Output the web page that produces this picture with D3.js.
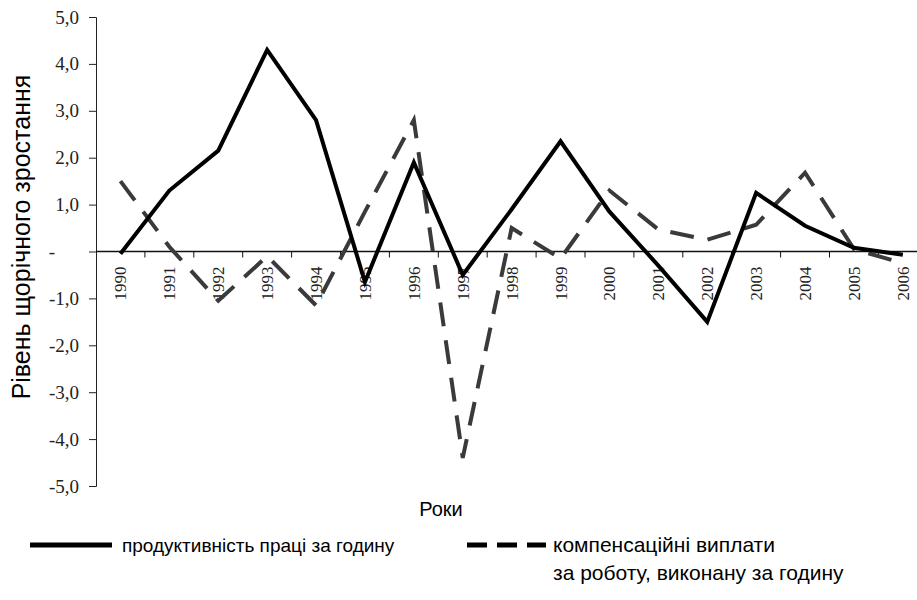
<!DOCTYPE html>
<html>
<head>
<meta charset="utf-8">
<script src="https://cdn.jsdelivr.net/npm/d3@7"></script>
<style>
  body { margin: 0; background: #fff; }
  svg { display: block; }
</style>
</head>
<body>
<div id="chart"></div>
<script>
// data
const years = ["1990","1991","1992","1993","1994","1995","1996","1997","1998","1999","2000","2001","2002","2003","2004","2005","2006"];
const productivity = [-0.05, 1.3, 2.15, 4.3, 2.8, -0.65, 1.9, -0.5, 0.9, 2.35, 0.85, -0.3, -1.5, 1.25, 0.55, 0.08, -0.07];
const compensation = [1.5, 0.1, -1.05, -0.1, -1.15, 0.85, 2.8, -4.4, 0.5, -0.15, 1.3, 0.47, 0.25, 0.57, 1.68, 0.05, -0.25];
const yTicks = [-5, -4, -3, -2, -1, 0, 1, 2, 3, 4, 5];
const seriesNames = ["продуктивність праці за годину", "компенсаційні виплати", "за роботу, виконану за годину"];
const yTitle = "Рівень щорічного зростання";
const xTitle = "Роки";

const width = 917, height = 600;
const margin = {top: 17, left: 96, bottom: 114};

const svg = d3.select("#chart").append("svg")
    .attr("width", width)
    .attr("height", height);

const x = d3.scaleBand()
    .domain(years)
    .range([margin.left, margin.left + 17 * 48.9]);
const y = d3.scaleLinear()
    .domain([-5, 5])
    .range([height - margin.bottom, margin.top]);

const fmt = v => v === 0 ? "-" : (v < 0 ? "-" : "") + Math.abs(v).toFixed(1).replace(".", ",");

// y axis
const yAxis = svg.append("g")
    .attr("transform", `translate(${margin.left},0)`)
    .call(d3.axisLeft(y).tickValues(yTicks).tickSize(7).tickPadding(10).tickFormat(fmt).tickSizeOuter(7));
yAxis.select(".domain").attr("stroke", "#222");
yAxis.selectAll(".tick line").attr("stroke", "#222");
yAxis.selectAll(".tick text")
    .attr("font-family", "Liberation Serif")
    .attr("font-size", 19)
    .attr("fill", "#222")
    .filter(d => d === 0)
    .attr("x", -44)
    .attr("text-anchor", "middle");

// x axis on zero line
const gx = svg.append("g").attr("transform", `translate(0,${y(0)})`);
gx.append("line")
    .attr("x1", margin.left).attr("x2", width)
    .attr("stroke", "#111").attr("stroke-width", 1.5);
gx.selectAll("line.tick").data(years.slice(1)).join("line")
    .attr("class", "tick")
    .attr("x1", d => x(d)).attr("x2", d => x(d))
    .attr("y1", 0).attr("y2", 6)
    .attr("stroke", "#111");
gx.selectAll("text").data(years).join("text")
    .attr("transform", d => `translate(${x(d) + x.bandwidth() / 2},15) rotate(-90)`)
    .attr("text-anchor", "end")
    .attr("dy", "0.35em")
    .attr("font-family", "Liberation Serif")
    .attr("font-size", 17)
    .attr("fill", "#222")
    .text(d => d);

// lines
const line = d3.line()
    .x((d, i) => x(years[i]) + x.bandwidth() / 2)
    .y(d => y(d));

svg.append("path")
    .datum(compensation)
    .attr("fill", "none")
    .attr("stroke", "#3a3a3a")
    .attr("stroke-width", 4)
    .attr("stroke-dasharray", "24,14")
    .attr("d", line);

svg.append("path")
    .datum(productivity)
    .attr("fill", "none")
    .attr("stroke", "#000")
    .attr("stroke-width", 4)
    .attr("stroke-linejoin", "miter")
    .attr("d", line);

// titles
svg.append("text")
    .attr("transform", "translate(30,237) rotate(-90)")
    .attr("text-anchor", "middle")
    .attr("font-family", "Liberation Sans")
    .attr("font-size", 25)
    .text(yTitle);

svg.append("text")
    .attr("x", 441).attr("y", 516)
    .attr("text-anchor", "middle")
    .attr("font-family", "Liberation Sans")
    .attr("font-size", 20)
    .text(xTitle);

// legend
const lg = svg.append("g").attr("font-family", "Liberation Sans").attr("font-size", 19);
lg.append("line")
    .attr("x1", 30).attr("x2", 112).attr("y1", 545).attr("y2", 545)
    .attr("stroke", "#000").attr("stroke-width", 5);
lg.append("text").attr("x", 122).attr("y", 552).text(seriesNames[0]);
lg.append("line")
    .attr("x1", 467).attr("x2", 546).attr("y1", 545).attr("y2", 545)
    .attr("stroke", "#000").attr("stroke-width", 5)
    .attr("stroke-dasharray", "20,10");
lg.append("text").attr("x", 553).attr("y", 552).attr("font-size", 21).text(seriesNames[1]);
lg.append("text").attr("x", 553).attr("y", 580).attr("font-size", 21).text(seriesNames[2]);
</script>
</body>
</html>
